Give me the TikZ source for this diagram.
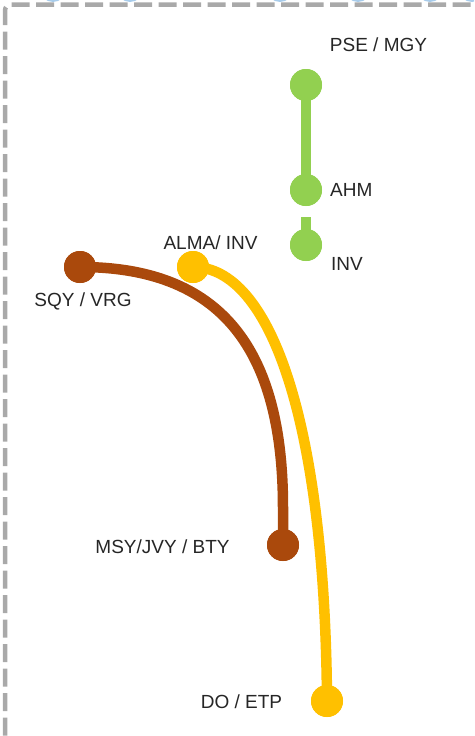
\documentclass[tikz,border=0pt]{standalone}
\usepackage{fontspec}
\setmainfont{Liberation Sans}
\definecolor{lgreen}{HTML}{92D050}
\definecolor{lbrown}{HTML}{AA490C}
\definecolor{lyellow}{HTML}{FFC000}
\definecolor{lgray}{HTML}{A9A9A9}
\definecolor{lblue}{HTML}{A8CCEB}
\definecolor{ltext}{HTML}{262626}
\tikzset{
  stop/.style={circle, fill=#1, minimum size=32pt, inner sep=0pt},
  route/.style={line width=10.5pt, draw=#1},
  lbl/.style={text=ltext, font=\fontsize{19}{22}\selectfont, inner sep=0pt}
}
\begin{document}
\begin{tikzpicture}[x=1pt,y=-1pt]
\useasboundingbox (0,0) rectangle (474,736);
\clip (0,0) rectangle (474,736);
% faint blue fragments at the top edge
\foreach \bx in {53,130,280,358,430,472}
  \fill[lblue] (\bx,-11) circle (13);
% dashed frame
\draw[lgray, line width=4.5pt, dash pattern=on 18pt off 6.5pt, rounded corners=6pt]
  (5,760) -- (5,4.5) -- (500,4.5);
% stops
\node[stop=lgreen] (pse) at (306,85) {};
\node[stop=lgreen] (ahm) at (306,190) {};
\node[stop=lgreen] (inv) at (306,245) {};
\node[stop=lbrown] (sqy) at (80,267) {};
\node[stop=lbrown] (msy) at (283,545) {};
\node[stop=lyellow] (alma) at (193,267) {};
\node[stop=lyellow] (do) at (327,701) {};
\coordinate (invtop) at (306,217);
\coordinate (bvert) at (283,508);
% routes
\draw[route=lgreen] (pse.center) -- (ahm.center);
\draw[route=lgreen] (invtop) -- (inv.center);
\draw[route=lbrown] (sqy.center) .. controls (230,267) and (283,360) .. (bvert) -- (msy.center);
\draw[route=lyellow] (alma.center) .. controls (270,267) and (325,420) .. (do.center);
% redraw stops on top
\node[stop=lgreen] at (pse) {};
\node[stop=lgreen] at (ahm) {};
\node[stop=lgreen] at (inv) {};
\node[stop=lbrown] at (sqy) {};
\node[stop=lbrown] at (msy) {};
\node[stop=lyellow] at (alma) {};
\node[stop=lyellow] at (do) {};
% labels
\node[lbl] (tpse) at (378.5,45) {PSE / MGY};
\node[lbl, anchor=west] (tahm) at (330,190) {AHM};
\node[lbl, anchor=west] (tinv) at (331,264) {INV};
\node[lbl] (talma) at (210.5,242.5) {ALMA/ INV};
\node[lbl] (tsqy) at (83,301.5) {SQY / VRG};
\node[lbl] (tmsy) at (162.5,546.5) {MSY/JVY / BTY};
\node[lbl] (tdo) at (241.5,701.5) {DO / ETP};
\end{tikzpicture}
\end{document}
